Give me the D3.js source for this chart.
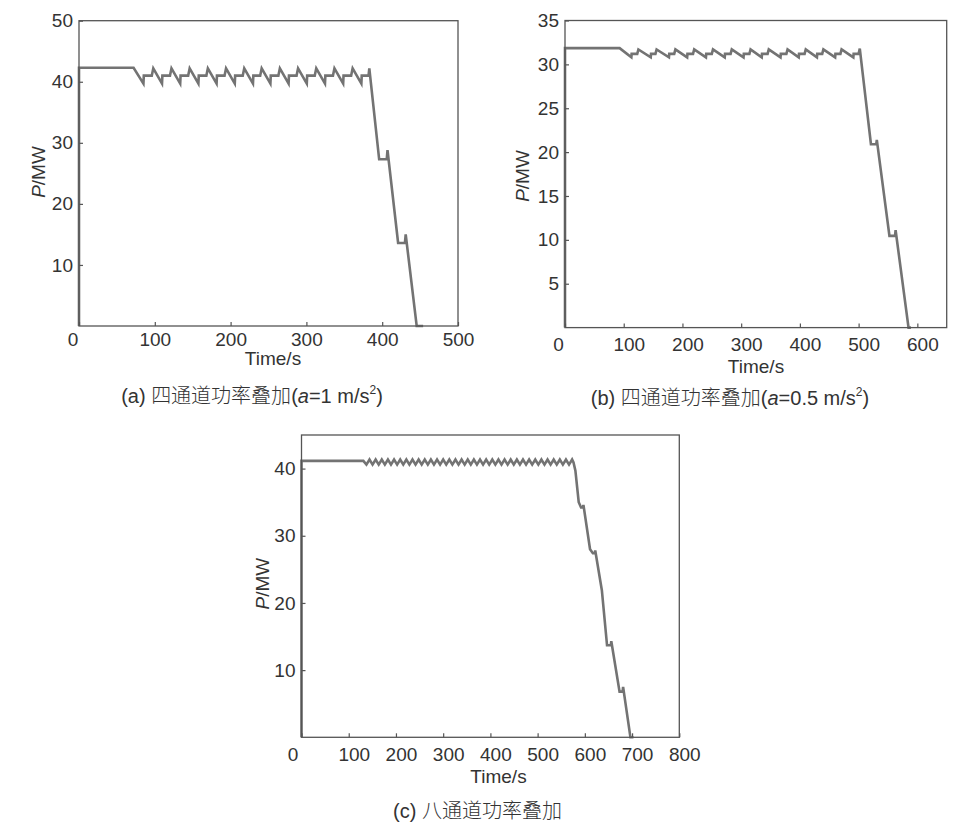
<!DOCTYPE html>
<html>
<head>
<meta charset="utf-8">
<script src="https://cdn.jsdelivr.net/npm/d3@7"></script>
<style>
  body { margin: 0; background: #fff; }
  svg text { font-family: "Liberation Sans", Arial, sans-serif; fill: #333; }
  .cjk { font-family: "Noto Sans CJK SC", sans-serif; font-weight: 300; }
</style>
</head>
<body>
<svg id="chart" width="956" height="831"></svg>
<script>
// ── Data: [time (s), power (MW)] ───────────────────────────────────────────

// (a) four channels, a = 1 m/s²
const seriesA = [
  [0, 0], [0, 42.3], [72, 42.3], [85, 39.7], [85.5, 41], [96, 41], [98, 42.2],
  [109.5, 39.7], [110, 41], [120, 41], [122, 42.2],
  [133.5, 39.7], [134, 41], [144, 41], [146, 42.2],
  [157.5, 39.7], [158, 41], [168, 41], [170, 42.2],
  [181.5, 39.7], [182, 41], [192, 41], [194, 42.2],
  [205.5, 39.7], [206, 41], [216, 41], [218, 42.2],
  [229.5, 39.7], [230, 41], [239, 41], [241, 42.2],
  [252.5, 39.7], [253, 41], [263, 41], [265, 42.2],
  [276.5, 39.7], [277, 41], [287, 41], [289, 42.2],
  [300.5, 39.7], [301, 41], [311, 41], [313, 42.2],
  [324.5, 39.7], [325, 41], [335, 41], [337, 42.2],
  [348.5, 39.7], [349, 41], [359, 41], [361, 42.2],
  [372.5, 39.7], [373, 41], [382, 41], [383, 42.2],
  [396, 27.3], [406, 27.3], [407, 28.8], [421, 13.6], [430, 13.6], [431, 15.0],
  [445.5, 0], [454, 0]
];

// (b) four channels, a = 0.5 m/s²
const seriesB = [
  [0, 0], [0, 31.85], [93, 31.85], [113, 30.8], [113.5, 31.2], [123, 31.2], [125, 31.7],
  [146, 30.8], [146.5, 31.2], [154, 31.2], [156, 31.7],
  [177, 30.8], [177.5, 31.2], [186, 31.2], [188, 31.7],
  [208, 30.8], [208.5, 31.2], [218, 31.2], [220, 31.7],
  [240, 30.8], [240.5, 31.2], [250, 31.2], [252, 31.7],
  [272, 30.8], [272.5, 31.2], [282, 31.2], [284, 31.7],
  [304, 30.8], [304.5, 31.2], [314, 31.2], [316, 31.7],
  [335, 30.8], [335.5, 31.2], [345, 31.2], [347, 31.7],
  [367, 30.8], [367.5, 31.2], [377, 31.2], [379, 31.7],
  [398, 30.8], [398.5, 31.2], [408, 31.2], [410, 31.7],
  [429, 30.8], [429.5, 31.2], [438, 31.2], [440, 31.7],
  [460, 30.8], [460.5, 31.2], [469, 31.2], [471, 31.7],
  [491, 30.8], [491.5, 31.2], [500, 31.2], [502, 31.8],
  [521, 20.9], [530, 20.9], [531, 21.4], [552.5, 10.45], [562, 10.45], [563, 11.1],
  [585, 0], [589, 0]
];

// (c) eight channels
const seriesC = [
  [0, 0], [0, 41.15], [131, 41.15],
  [137.5, 40.6], [144, 41.35], [150.5, 40.6], [157, 41.35], [163.5, 40.6], [170, 41.35],
  [176.5, 40.6], [183, 41.35], [189.5, 40.6], [196, 41.35], [202.5, 40.6], [209, 41.35],
  [215.5, 40.6], [222, 41.35], [228.5, 40.6], [235, 41.35], [241.5, 40.6], [248, 41.35],
  [254.5, 40.6], [261, 41.35], [267.5, 40.6], [274, 41.35], [280.5, 40.6], [287, 41.35],
  [293.5, 40.6], [300, 41.35], [306.5, 40.6], [313, 41.35], [319.5, 40.6], [326, 41.35],
  [332.5, 40.6], [339, 41.35], [345.5, 40.6], [352, 41.35], [358.5, 40.6], [365, 41.35],
  [371.5, 40.6], [378, 41.35], [384.5, 40.6], [391, 41.35], [397.5, 40.6], [404, 41.35],
  [410.5, 40.6], [417, 41.35], [423.5, 40.6], [430, 41.35], [436.5, 40.6], [443, 41.35],
  [449.5, 40.6], [456, 41.35], [462.5, 40.6], [469, 41.35], [475.5, 40.6], [482, 41.35],
  [488.5, 40.6], [495, 41.35], [501.5, 40.6], [508, 41.35], [514.5, 40.6], [521, 41.35],
  [527.5, 40.6], [534, 41.35], [540.5, 40.6], [547, 41.35], [553.5, 40.6], [560, 41.35],
  [566.5, 40.6], [573, 41.35],
  [576, 40.9], [580, 39.7], [587, 35.0], [592, 34.2], [596, 34.2], [597, 34.6],
  [611, 28.0], [617, 27.4], [621, 27.4], [622, 27.8], [636, 21.9], [647, 13.7],
  [655, 13.7], [656, 14.3], [673.5, 6.8], [680, 6.8], [681, 7.5], [696.5, 0], [703, 0]
];

// Tick values
const xTicksA = [0, 100, 200, 300, 400, 500];
const yTicksA = [10, 20, 30, 40, 50];
const xTicksB = [0, 100, 200, 300, 400, 500, 600];
const yTicksB = [5, 10, 15, 20, 25, 30, 35];
const xTicksC = [0, 100, 200, 300, 400, 500, 600, 700, 800];
const yTicksC = [10, 20, 30, 40];

// Captions
const captionA = { tag: '(a) ', cjk: '四通道功率叠加', acc: '=1 m/s' };
const captionB = { tag: '(b) ', cjk: '四通道功率叠加', acc: '=0.5 m/s' };
const captionC = { tag: '(c) ', cjk: '八通道功率叠加', acc: null };

// ── Drawing ────────────────────────────────────────────────────────────────

const svg = d3.select('#chart');
const LINE_COLOR = '#737373';
const FRAME_COLOR = '#555';
const FONT = 19;

function drawPanel(cfg) {
  const x = d3.scaleLinear().domain(cfg.xDomain).range([cfg.left, cfg.right]);
  const y = d3.scaleLinear().domain(cfg.yDomain).range([cfg.bottom, cfg.top]);
  const g = svg.append('g');

  // data line (under the frame so the axis stays crisp)
  g.append('path')
    .datum(cfg.data)
    .attr('fill', 'none')
    .attr('stroke', LINE_COLOR)
    .attr('stroke-width', 2.6)
    .attr('stroke-linejoin', 'miter')
    .attr('d', d3.line().x(d => x(d[0])).y(d => y(d[1])));

  // x axis, ticks pointing inward
  const xAxis = g.append('g')
    .attr('transform', `translate(0,${cfg.bottom})`)
    .call(d3.axisBottom(x).tickValues(cfg.xTicks).tickSize(-4).tickPadding(cfg.xPad).tickFormat(d3.format('d')));
  xAxis.select('.domain').remove();
  xAxis.selectAll('line').attr('stroke', FRAME_COLOR).attr('stroke-width', 1.2);
  xAxis.selectAll('text')
    .attr('font-size', FONT)
    .attr('fill', '#333')
    .attr('dx', d => d === 0 ? cfg.zeroDx : cfg.xDx);

  // y axis
  const yAxis = g.append('g')
    .attr('transform', `translate(${cfg.left},0)`)
    .call(d3.axisLeft(y).tickValues(cfg.yTicks).tickSize(-4).tickPadding(6).tickFormat(d3.format('d')));
  yAxis.select('.domain').remove();
  yAxis.selectAll('line').attr('stroke', FRAME_COLOR).attr('stroke-width', 1.2);
  yAxis.selectAll('text').attr('font-size', FONT).attr('fill', '#333');

  // frame
  g.append('rect')
    .attr('x', cfg.left).attr('y', cfg.top)
    .attr('width', cfg.right - cfg.left).attr('height', cfg.bottom - cfg.top)
    .attr('fill', 'none')
    .attr('stroke', FRAME_COLOR)
    .attr('stroke-width', 1.3);

  // axis titles
  g.append('text')
    .attr('x', cfg.xTitle[0]).attr('y', cfg.xTitle[1])
    .attr('text-anchor', 'middle')
    .attr('font-size', FONT)
    .text('Time/s');

  const yt = g.append('text')
    .attr('transform', `translate(${cfg.yTitle[0]},${cfg.yTitle[1]}) rotate(-90)`)
    .attr('text-anchor', 'middle')
    .attr('dy', '0.35em')
    .attr('font-size', FONT);
  yt.append('tspan').attr('font-style', 'italic').text('P');
  yt.append('tspan').text('/MW');

  // caption
  const cap = g.append('text')
    .attr('x', cfg.caption[0]).attr('y', cfg.caption[1])
    .attr('text-anchor', 'middle')
    .attr('font-size', 20);
  cap.append('tspan').text(cfg.captionText.tag);
  cap.append('tspan').attr('class', 'cjk').text(cfg.captionText.cjk);
  if (cfg.captionText.acc) {
    cap.append('tspan').text('(');
    cap.append('tspan').attr('font-style', 'italic').text('a');
    cap.append('tspan').text(cfg.captionText.acc);
    cap.append('tspan').attr('font-size', 12).attr('dy', -9).text('2');
    cap.append('tspan').attr('dy', 9).text(')');
  }
}

drawPanel({
  data: seriesA, xDomain: [0, 500], yDomain: [0, 50],
  xTicks: xTicksA, yTicks: yTicksA,
  left: 79, right: 458, top: 20.7, bottom: 326,
  xPad: 7, xDx: 0, zeroDx: -6.5,
  xTitle: [273, 365], yTitle: [38, 172],
  caption: [252, 403], captionText: captionA
});

drawPanel({
  data: seriesB, xDomain: [0, 650], yDomain: [0, 35],
  xTicks: xTicksB, yTicks: yTicksB,
  left: 565, right: 946.7, top: 20.5, bottom: 327.6,
  xPad: 10, xDx: 5, zeroDx: -7,
  xTitle: [756, 373], yTitle: [522.5, 176],
  caption: [730, 405], captionText: captionB
});

drawPanel({
  data: seriesC, xDomain: [0, 800], yDomain: [0, 45],
  xTicks: xTicksC, yTicks: yTicksC,
  left: 301.5, right: 679.3, top: 435, bottom: 737.3,
  xPad: 10.5, xDx: 5, zeroDx: -9,
  xTitle: [498.5, 783], yTitle: [262.5, 583.7],
  caption: [477.5, 818], captionText: captionC
});
</script>
</body>
</html>
